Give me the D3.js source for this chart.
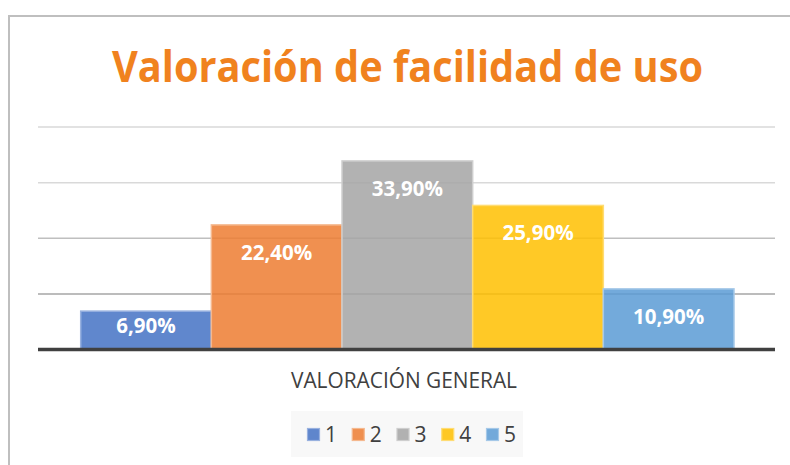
<!DOCTYPE html>
<html>
<head>
<meta charset="utf-8">
<script src="https://cdn.jsdelivr.net/npm/d3@7"></script>
<style>
  html, body { margin: 0; padding: 0; background: #fff; }
  svg { display: block; }
</style>
</head>
<body>
<svg id="chart" width="790" height="465"></svg>
<script>
// ---- data ----
const title = "Valoración de facilidad de uso";
const axisTitle = "VALORACIÓN GENERAL";
const seriesNames = ["1", "2", "3", "4", "5"];
const seriesValues = [6.9, 22.4, 33.9, 25.9, 10.9];
const seriesLabels = ["6,90%", "22,40%", "33,90%", "25,90%", "10,90%"];
const yTicks = [10, 20, 30, 40];

// ---- styles ----
const colors = ["#4472C4", "#ED7D31", "#A5A5A5", "#FFC000", "#5B9BD5"];
const gridColors = ["#a6a6a6", "#bfbfbf", "#d9d9d9", "#d9d9d9"];

const svg = d3.select("#chart");

// outer chart border
svg.append("path")
  .attr("d", "M9,466 L9,16 L792,16")
  .attr("fill", "none")
  .attr("stroke", "#bfbfbf")
  .attr("stroke-width", 2);

const plotLeft = 38, plotRight = 775;
const y = d3.scaleLinear().domain([0, 40]).range([349.5, 127]);
const x = d3.scaleBand().domain(seriesNames).range([80.7, 734]).padding(0);

// gridlines
svg.append("g").selectAll("line").data(yTicks).join("line")
  .attr("x1", plotLeft).attr("x2", plotRight)
  .attr("y1", d => y(d)).attr("y2", d => y(d))
  .attr("stroke", (d, i) => gridColors[i])
  .attr("stroke-width", 1.5);

// bars
const bars = svg.append("g");
bars.selectAll("rect").data(seriesValues).join("rect")
  .attr("x", (d, i) => x(seriesNames[i]))
  .attr("width", x.bandwidth())
  .attr("y", d => y(d))
  .attr("height", d => y(0) - y(d))
  .attr("fill", (d, i) => colors[i])
  .attr("fill-opacity", 0.85)
  .attr("stroke", (d, i) => d3.interpolateRgb(colors[i], "#fff")(0.45))
  .attr("stroke-width", 1.5);

// baseline
svg.append("line")
  .attr("x1", plotLeft).attr("x2", plotRight)
  .attr("y1", y(0)).attr("y2", y(0))
  .attr("stroke", "#404040")
  .attr("stroke-width", 3.5);

// data labels
svg.append("g").selectAll("text").data(seriesValues).join("text")
  .attr("x", (d, i) => x(seriesNames[i]) + x.bandwidth() / 2)
  .attr("y", d => Math.min(y(d) + 27, y(0) - 25))
  .attr("text-anchor", "middle")
  .attr("dominant-baseline", "central")
  .attr("font-family", "'Open Sans', sans-serif")
  .attr("font-weight", "bold")
  .attr("font-size", 20.5)
  .attr("fill", "#ffffff")
  .text((d, i) => seriesLabels[i]);

// title
svg.append("text")
  .attr("x", 407.5).attr("y", 81.5)
  .attr("text-anchor", "middle")
  .attr("font-family", "'Open Sans', sans-serif")
  .attr("font-weight", "bold")
  .attr("font-size", 43)
  .attr("fill", "#F0821E")
  .attr("textLength", 591)
  .attr("lengthAdjust", "spacingAndGlyphs")
  .text(title);

// axis title
svg.append("text")
  .attr("x", 404).attr("y", 388)
  .attr("text-anchor", "middle")
  .attr("font-family", "'Open Sans', sans-serif")
  .attr("font-size", 21)
  .attr("fill", "#404040")
  .attr("textLength", 226)
  .attr("lengthAdjust", "spacingAndGlyphs")
  .text(axisTitle);

// legend
svg.append("rect")
  .attr("x", 291).attr("y", 411).attr("width", 232).attr("height", 46)
  .attr("fill", "#f8f8f8");

const lx = d3.scalePoint().domain(seriesNames).range([307, 486]);
const leg = svg.append("g").selectAll("g").data(seriesNames).join("g")
  .attr("transform", d => `translate(${lx(d)},428)`);
leg.append("rect")
  .attr("x", 0.5).attr("y", 0.5).attr("width", 12).attr("height", 12)
  .attr("fill", (d, i) => colors[i])
  .attr("fill-opacity", 0.85)
  .attr("stroke", (d, i) => d3.interpolateRgb(colors[i], "#fff")(0.45))
  .attr("stroke-width", 1.2);
leg.append("text")
  .attr("x", 18).attr("y", 14)
  .attr("font-family", "'Open Sans', sans-serif")
  .attr("font-size", 21)
  .attr("fill", "#404040")
  .text(d => d);
</script>
</body>
</html>
